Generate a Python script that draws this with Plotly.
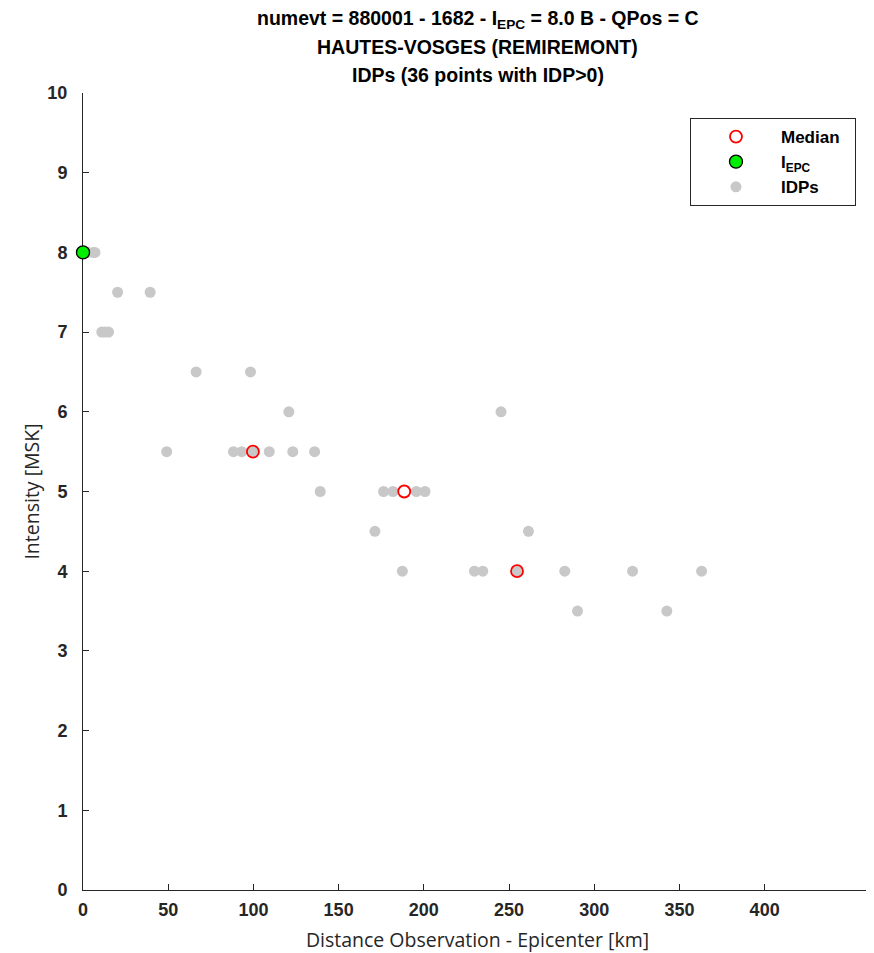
import plotly.graph_objects as go

# IDP observations (distance km, intensity MSK)
idp_dist = [0, 3, 6, 7, 20.3, 39.4, 11, 13, 15, 66.4, 98.3, 120.8, 245.3,
            49.1, 88.3, 93.2, 99.7, 109.3, 123.1, 135.9,
            139.2, 176.4, 181.9, 195.6, 200.7,
            171.3, 261.4,
            187.4, 229.7, 234.6, 254.7, 282.7, 322.5, 363.0,
            290.2, 342.6]
idp_int = [8, 8, 8, 8, 7.5, 7.5, 7, 7, 7, 6.5, 6.5, 6, 6,
           5.5, 5.5, 5.5, 5.5, 5.5, 5.5, 5.5,
           5, 5, 5, 5, 5,
           4.5, 4.5,
           4, 4, 4, 4, 4, 4, 4,
           3.5, 3.5]

median_dist = [99.7, 188.5, 254.7]
median_int = [5.5, 5.0, 4.0]

iepc_dist = [0]
iepc_int = [8.0]

x_ticks = [0, 50, 100, 150, 200, 250, 300, 350, 400]
y_ticks = [0, 1, 2, 3, 4, 5, 6, 7, 8, 9, 10]

title_lines = [
    "numevt = 880001 - 1682 - I<sub>EPC</sub> = 8.0 B - QPos = C",
    "HAUTES-VOSGES (REMIREMONT)",
    "IDPs (36 points with IDP>0)",
]

AX = "#262626"
SANS = "Liberation Sans, Arial, Helvetica, sans-serif"
TICKFONT = dict(family=SANS, size=18, color=AX)

fig = go.Figure()
fig.add_trace(go.Scatter(
    x=idp_dist, y=idp_int, mode="markers", name="<b>IDPs</b>",
    legendgroup="c", legendrank=3,
    marker=dict(size=11, color="#c8c8c8", line=dict(width=0)),
    cliponaxis=False,
))
fig.add_trace(go.Scatter(
    x=median_dist, y=median_int, mode="markers", name="<b>Median</b>\u00a0\u00a0",
    legendgroup="a", legendrank=1,
    marker=dict(size=12, color="rgba(0,0,0,0)", line=dict(width=1.8, color="#ff0000")),
))
fig.add_trace(go.Scatter(
    x=iepc_dist, y=iepc_int, mode="markers", name="<b>I<sub>EPC</sub></b>",
    legendgroup="b", legendrank=2,
    marker=dict(size=13, color="#00ee00", line=dict(width=1.3, color="#000000")),
    cliponaxis=False,
))

annotations = []
for ypos, txt in zip([1.0925, 1.0577, 1.0226], title_lines):
    annotations.append(dict(
        x=0.5, y=ypos, xref="paper", yref="paper", text="<b>" + txt + "</b>",
        showarrow=False, xanchor="center", yanchor="middle",
        font=dict(family=SANS, size=19.5, color="#000000"),
    ))

# page body adds an 8px offset, so the figure is sized to fill the rest of the window
fig.update_layout(
    width=866, height=945,
    margin=dict(l=75, r=2, t=85, b=63),
    paper_bgcolor="white", plot_bgcolor="white",
    showlegend=True,
    legend=dict(
        x=0.9797, y=0.9686, xanchor="right", yanchor="top",
        bgcolor="white", bordercolor=AX, borderwidth=1,
        font=dict(family=SANS, size=17, color="#000000"),
        itemwidth=80, traceorder="grouped", tracegroupgap=0,
    ),
    annotations=annotations,
    xaxis=dict(
        range=[0, 463], tickvals=x_ticks, ticktext=["<b>%d</b>" % v for v in x_ticks],
        showgrid=False, zeroline=False, showline=True, linecolor=AX, linewidth=1,
        ticks="inside", ticklen=6, tickcolor=AX, tickwidth=1, layer="below traces",
        tickfont=TICKFONT, ticklabelstandoff=3,
        title=dict(text="Distance Observation - Epicenter [km]",
                   font=dict(family="Open Sans, sans-serif", size=19.5, color=AX),
                   standoff=16),
    ),
    yaxis=dict(
        range=[0, 10], tickvals=y_ticks, ticktext=["<b>%d</b>" % v for v in y_ticks],
        showgrid=False, zeroline=False, showline=True, linecolor=AX, linewidth=1,
        ticks="inside", ticklen=6, tickcolor=AX, tickwidth=1, layer="below traces",
        tickfont=TICKFONT, ticklabelstandoff=11,
        title=dict(text="Intensity [MSK]",
                   font=dict(family="Open Sans, sans-serif", size=19.5, color=AX),
                   standoff=2),
    ),
)

fig.write_html("out.html")
